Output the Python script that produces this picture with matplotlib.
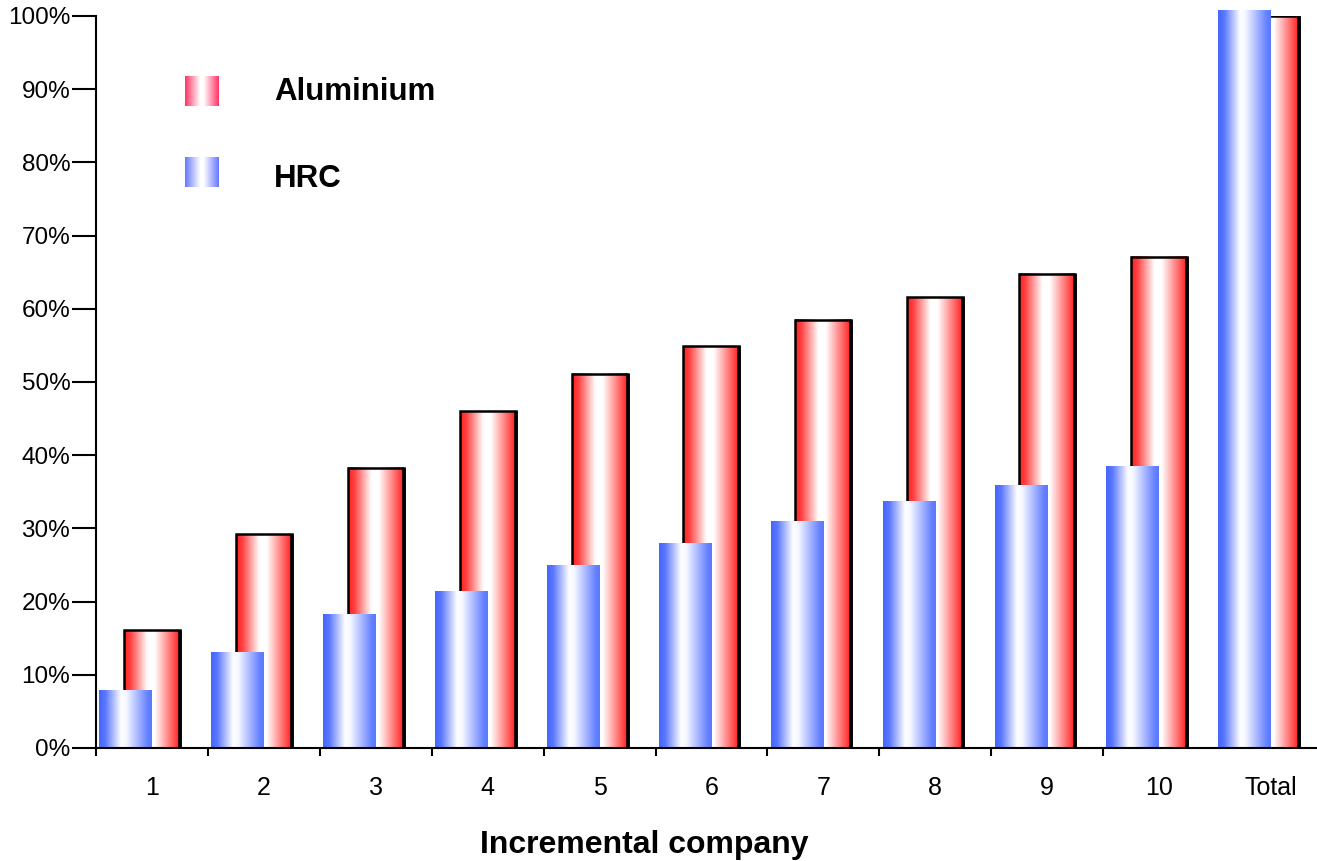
import numpy as np
import matplotlib
matplotlib.use("Agg")
import matplotlib.pyplot as plt
from matplotlib.colors import LinearSegmentedColormap

plt.rcParams['font.family'] = ['Liberation Sans', 'DejaVu Sans']

# data (percent)
categories = ['1', '2', '3', '4', '5', '6', '7', '8', '9', '10', 'Total']
aluminium = [16.1, 29.2, 38.3, 46.0, 51.1, 54.9, 58.5, 61.6, 64.8, 67.1, 100.0]
hrc = [7.8, 13.1, 18.2, 21.4, 25.0, 27.9, 30.9, 33.7, 35.9, 38.4, 100.7]
yticks = list(range(0, 101, 10))

# gradients across each bar (left -> right)
red_cmap = LinearSegmentedColormap.from_list('red_bar', [
    (0.0, '#ff1e1e'), (0.12, '#ff4444'), (0.42, '#ffffff'),
    (0.55, '#ffffff'), (0.93, '#ff4040'), (1.0, '#ff2020')])
blue_cmap = LinearSegmentedColormap.from_list('blue_bar', [
    (0.0, '#4466ff'), (0.12, '#5a78ff'), (0.42, '#ffffff'),
    (0.52, '#f4f6ff'), (0.92, '#6682ff'), (1.0, '#5a78ff')])
red_leg = LinearSegmentedColormap.from_list('red_leg', [
    (0.0, '#ff3366'), (0.45, '#ffffff'), (0.55, '#ffffff'), (1.0, '#ff3366')])
blue_leg = LinearSegmentedColormap.from_list('blue_leg', [
    (0.0, '#6677ff'), (0.45, '#ffffff'), (0.55, '#ffffff'), (1.0, '#6677ff')])
grad = np.linspace(0, 1, 256).reshape(1, -1)

W, H = 1317, 861
fig = plt.figure(figsize=(W / 100, H / 100), dpi=100)
ax = fig.add_axes([96 / W, (H - 748) / H, (W - 96) / W, (748 - 16) / H])

x = np.arange(len(categories))


def fill_gradient(bars, cmap, z):
    for r in bars:
        ax.imshow(grad, extent=[r.get_x(), r.get_x() + r.get_width(), 0, r.get_height()],
                  aspect='auto', cmap=cmap, zorder=z, clip_on=False, interpolation='bilinear')


# Aluminium bars (behind), with black outline and a heavier right side
red_bars = ax.bar(x, aluminium, width=0.5, color='none', edgecolor='black',
                  linewidth=1.8, zorder=2.5)
fill_gradient(red_bars, red_cmap, 2)
for r in red_bars:
    ax.plot([r.get_x() + r.get_width()] * 2, [0, r.get_height()], color='black',
            linewidth=2.6, zorder=2.6, solid_capstyle='butt')

# HRC bars (in front), shifted to the left
blue_bars = ax.bar(x - 0.47, hrc, width=0.47, align='edge', color='none',
                   edgecolor='none', zorder=3.5)
fill_gradient(blue_bars, blue_cmap, 3)

ax.set_xlim(-0.5, -0.5 + (W - 96) / 111.9)
ax.set_ylim(0, 100)

ax.set_yticks(yticks)
ax.set_yticklabels([f'{t}%' for t in yticks])
ax.tick_params(axis='y', length=17, width=1.5, pad=1.5, labelsize=17.5)

ax.set_xticks(x[:-1] - 0.5)
ax.set_xticklabels([])
ax.set_xticks(x, minor=True)
ax.set_xticklabels(categories, minor=True)
ax.tick_params(axis='x', which='major', length=6, width=1.5)
ax.tick_params(axis='x', which='minor', length=0, pad=20, labelsize=18)

for s in ['top', 'right']:
    ax.spines[s].set_visible(False)
for s in ['left', 'bottom']:
    ax.spines[s].set_linewidth(1.5)
    ax.spines[s].set_zorder(4)

fig.text(644 / W, 1 - 845 / H, 'Incremental company', ha='center', va='center',
         fontsize=23, fontweight='bold')

# legend swatches
for (y0, y1), cmap, label, ty in [((76, 106), red_leg, 'Aluminium', 92),
                                  ((157, 187), blue_leg, 'HRC', 179)]:
    lax = fig.add_axes([185 / W, 1 - y1 / H, 33 / W, (y1 - y0) / H])
    lax.imshow(grad, aspect='auto', cmap=cmap, interpolation='bilinear')
    lax.axis('off')
    fig.text(274 / W, 1 - ty / H, label, ha='left', va='center',
             fontsize=22.5, fontweight='bold')

fig.savefig('out.png', dpi=100)
